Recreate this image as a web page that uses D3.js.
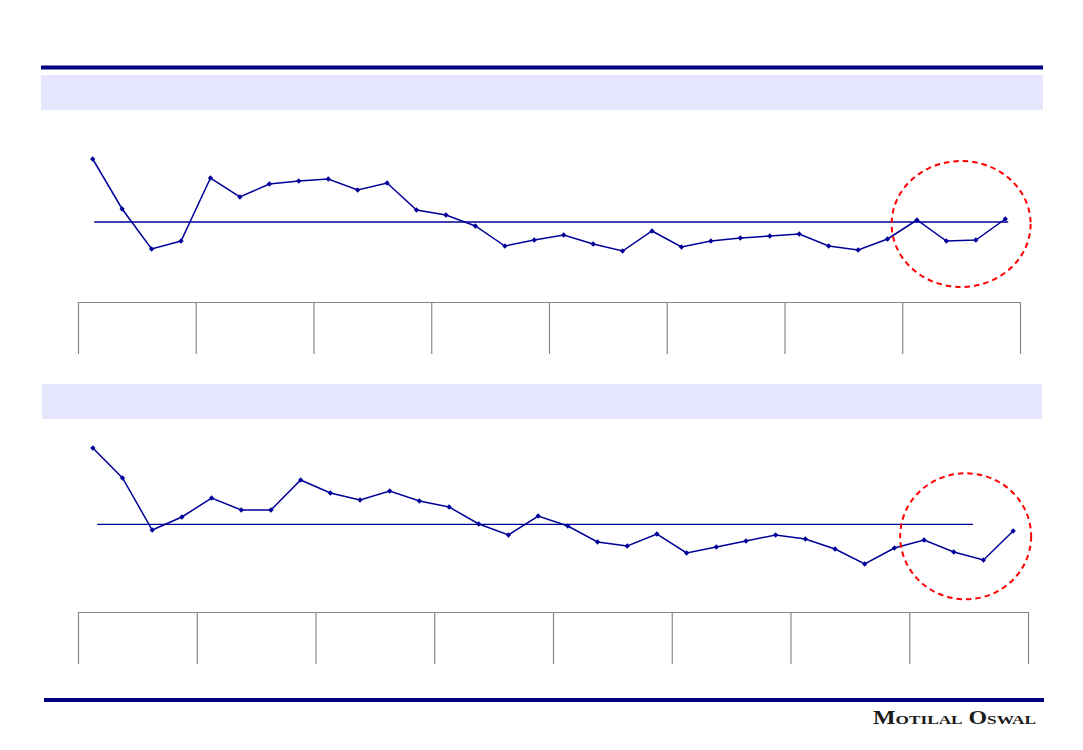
<!DOCTYPE html>
<html>
<head>
<meta charset="utf-8">
<script src="https://cdn.jsdelivr.net/npm/d3@7"></script>
<style>
  body { margin: 0; background: #fff; }
  svg { display: block; }
</style>
</head>
<body>
<svg id="page" width="1083" height="750"></svg>
<script>
// 32 quarters, grouped in 8 blocks of 4 (labels are blank on the original slide)
var quarters = ["1","2","3","4","5","6","7","8","9","10","11","12","13","14","15","16",
                "17","18","19","20","21","22","23","24","25","26","27","28","29","30","31","32"];
var groupEdges = [-0.5, 3.5, 7.5, 11.5, 15.5, 19.5, 23.5, 27.5, 31.5];

// series values
var topValues = [14.3, 9.3, 5.3, 6.1, 12.4, 10.5, 11.8, 12.1, 12.3, 11.2, 11.9, 9.2, 8.7, 7.6, 5.6, 6.2,
                 6.7, 5.8, 5.1, 7.1, 5.5, 6.1, 6.4, 6.6, 6.8, 5.6, 5.2, 6.3, 8.2, 6.1, 6.2, 8.3];
var bottomValues = [16.4, 13.4, 8.2, 9.5, 11.4, 10.2, 10.2, 13.2, 11.9, 11.2, 12.1, 11.1, 10.5, 8.8, 7.7, 9.6,
                    8.6, 7.0, 6.6, 7.8, 5.9, 6.5, 7.1, 7.7, 7.3, 6.3, 4.8, 6.4, 7.2, 6.0, 5.2, 8.1];

// long period averages (value, first and last quarter index it spans)
var topAvg = [8.0, 0.05, 31.1];
var bottomAvg = [8.77, 0.15, 29.65];

// highlighted area (quarter index, value)
var topHighlight = [29.5, 7.8];
var bottomHighlight = [29.4, 7.57];

var svg = d3.select("#page");
var navy = "#000080", lineBlue = "#000099", lavender = "#E6E6FF";

/* Balken en kaders */
svg.append("rect").attr("x", 41).attr("y", 65.5).attr("width", 1002).attr("height", 4).attr("fill", navy);
svg.append("rect").attr("x", 41).attr("y", 75).attr("width", 1002).attr("height", 35).attr("fill", lavender);
svg.append("rect").attr("x", 42).attr("y", 384).attr("width", 1000).attr("height", 35).attr("fill", lavender);
svg.append("rect").attr("x", 44).attr("y", 698).attr("width", 1000).attr("height", 4).attr("fill", navy);

svg.append("text")
    .attr("x", 873).attr("y", 724)
    .attr("textLength", 163).attr("lengthAdjust", "spacingAndGlyphs")
    .style("font-family", "'Liberation Serif', 'DejaVu Serif', serif")
    .style("font-variant", "small-caps")
    .style("font-size", "18px")
    .style("font-weight", "bold")
    .style("fill", "#1a1a1a")
    .text("Motilal Oswal");

function drawChart(values, avg, highlight, x0, x1, axisY, radius) {
  var x = d3.scaleLinear().domain([-0.5, quarters.length - 0.5]).range([x0, x1]);
  var y = d3.scaleLinear().domain([0, 16]).range([axisY, axisY - 160]);
  var g = svg.append("g");

  /* x-as met groepsscheidingen */
  var axis = g.append("g")
      .attr("transform", "translate(0," + axisY + ")")
      .call(d3.axisBottom(x).tickValues(groupEdges).tickSize(52).tickSizeOuter(0).tickFormat(""));
  axis.select(".domain").attr("stroke", "#888").attr("stroke-width", 1.2);
  axis.selectAll(".tick line").attr("stroke", "#888").attr("stroke-width", 1.2);

  /* Gemiddelde */
  g.append("line")
      .attr("x1", x(avg[1])).attr("x2", x(avg[2]))
      .attr("y1", y(avg[0])).attr("y2", y(avg[0]))
      .attr("stroke", lineBlue).attr("stroke-width", 1.3);

  /* Lijn met markers */
  var line = d3.line()
      .x(function(d, i) { return x(i); })
      .y(function(d) { return y(d); });
  g.append("path")
      .datum(values)
      .attr("d", line)
      .attr("fill", "none")
      .attr("stroke", lineBlue)
      .attr("stroke-width", 1.5);

  g.selectAll(".pt")
      .data(values)
      .enter().append("path")
      .attr("class", "pt")
      .attr("transform", function(d, i) { return "translate(" + x(i) + "," + y(d) + ") rotate(45)"; })
      .attr("d", d3.symbol(d3.symbolSquare).size(14))
      .attr("fill", lineBlue);

  /* Rode cirkel */
  g.append("ellipse")
      .attr("cx", x(highlight[0])).attr("cy", y(highlight[1]))
      .attr("rx", radius[0]).attr("ry", radius[1])
      .attr("fill", "none")
      .attr("stroke", "#FF0000")
      .attr("stroke-width", 2)
      .attr("stroke-dasharray", "5.5,4");
}

drawChart(topValues, topAvg, topHighlight, 78, 1020, 302, [69.5, 63]);
drawChart(bottomValues, bottomAvg, bottomHighlight, 78, 1028, 612, [65.5, 63]);
</script>
</body>
</html>
